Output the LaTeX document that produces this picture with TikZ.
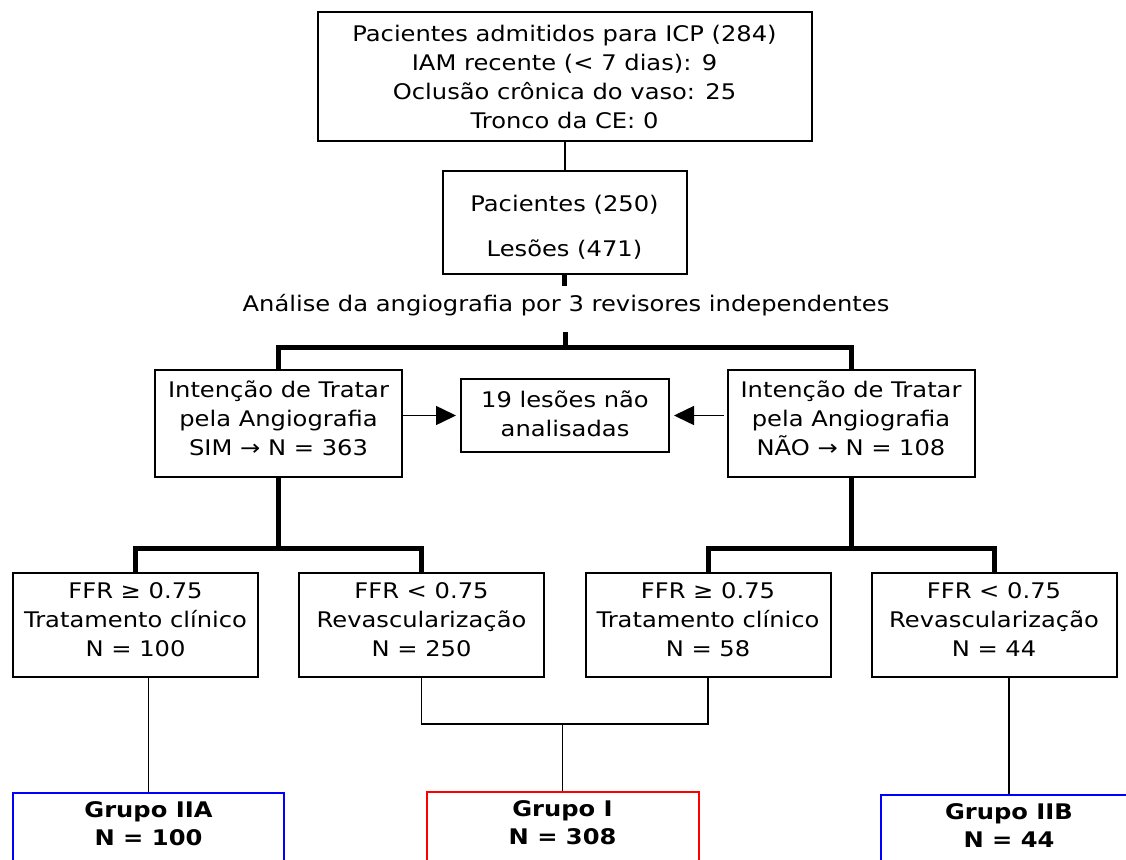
\documentclass[tikz,border=0pt]{standalone}
\usepackage{fontspec}
\setmainfont{DejaVu Sans}[FakeStretch=1.125]
\usetikzlibrary{arrows.meta}
\newcommand{\txtpad}[1]{\\[#1]\mbox{}}
\newcommand{\txttop}[1]{\mbox{}\\[#1]}
\begin{document}
\begin{tikzpicture}[x=1pt,y=-1pt,
  txt/.style={font=\fontsize{21.5}{29}\selectfont, align=center, inner sep=0pt},
  box/.style={txt, draw, line width=2pt},
  ffrbox/.style={box, minimum width=245, minimum height=104},
  intbox/.style={box, minimum width=247, minimum height=107},
  grpbox/.style={draw, line width=2pt, minimum height=120, anchor=north, inner sep=0pt},
  grptext/.style={txt, font=\fontsize{21.5}{28}\selectfont\bfseries},
  heavy/.style={line width=5pt},
  thinline/.style={line width=2pt},
  hair/.style={line width=1.2pt},
  arrowline/.style={line width=1.5pt, -{Triangle[length=20pt,width=19pt]}}
]
\useasboundingbox (0,0) rectangle (1126,859);
\clip (0,0) rectangle (1126,859);

\node[box, minimum width=494, minimum height=128] (top) at (564.5,76.5)
  {Pacientes admitidos para ICP (284)\\IAM recente (< 7 dias): 9\\Oclusão crônica do vaso: 25\\Tronco da CE: 0};
\node[box, minimum width=244, minimum height=103] (pac) at (564.5,222.5)
  {\txttop{-4pt}Pacientes (250)\\[16pt]Lesões (471)};
\node[txt] (analise) at (566,305) {Análise da angiografia por 3 revisores independentes};

\node[intbox] (int1) at (278.5,423.5) {Intenção de Tratar\\pela Angiografia\\SIM → N = 363\txtpad{-18pt}};
\node[intbox] (int2) at (851,423.5) {Intenção de Tratar\\pela Angiografia\\NÃO → N = 108\txtpad{-18pt}};
\node[box, minimum width=208, minimum height=73] (mid) at (565,415.5) {19 lesões não\\analisadas\txtpad{-25pt}};

\node[ffrbox] (f1) at (135.5,625) {FFR ≥ 0.75\\Tratamento clínico\\N = 100\txtpad{-19pt}};
\node[ffrbox] (f2) at (421.5,625) {FFR < 0.75\\Revascularização\\N = 250\txtpad{-19pt}};
\node[ffrbox] (f3) at (708,625) {FFR ≥ 0.75\\Tratamento clínico\\N = 58\txtpad{-19pt}};
\node[ffrbox] (f4) at (994,625) {FFR < 0.75\\Revascularização\\N = 44\txtpad{-19pt}};

\node[grpbox, draw=blue, minimum width=271] (g2a) at (148.5,792) {};
\node[grpbox, draw=red, minimum width=272] (g1) at (562.5,791) {};
\node[grpbox, draw=blue, minimum width=256] (g2b) at (1009,794) {};
\node[grptext] (t2a) at (148.5,824) {Grupo IIA\\N = 100};
\node[grptext] (t1) at (562.5,823) {Grupo I\\N = 308};
\node[grptext] (t2b) at (1009,826) {Grupo IIB\\N = 44};

% connectors
\draw[thinline] (top.south) -- (pac.north);
\coordinate (a1) at (564.5,286);
\draw[heavy] (pac.south) -- (a1);
\coordinate (s1) at (565,332);
\coordinate (s1b) at (565,347.5);
\draw[heavy] (s1) -- (s1b);
\draw[heavy, line join=miter] (int1.north) |- (s1b) -| (int2.north);

\draw[arrowline, shorten >=4pt] (int1.east |- mid.west) -- (mid.west);
\draw[arrowline, shorten >=4pt, shorten <=3pt] (int2.west |- mid.east) -- (mid.east);

\coordinate (b1) at (278.5,548);
\coordinate (b2) at (851,548);
\draw[heavy] (int1.south) -- (b1);
\draw[heavy] (int2.south) -- (b2);
\draw[heavy, line join=miter] (f1.north) |- (b1) -| (f2.north);
\draw[heavy, line join=miter] (f3.north) |- (b2) -| (f4.north);

\coordinate (j) at (562.5,724);
\draw[hair] (f1.south -| g2a.north) -- (g2a.north);
\draw[hair] (f2.south) |- (j) -| (f3.south);
\draw[hair] (j) -- (g1.north);
\draw[hair] (f4.south -| g2b.north) -- (g2b.north);
\end{tikzpicture}
\end{document}
